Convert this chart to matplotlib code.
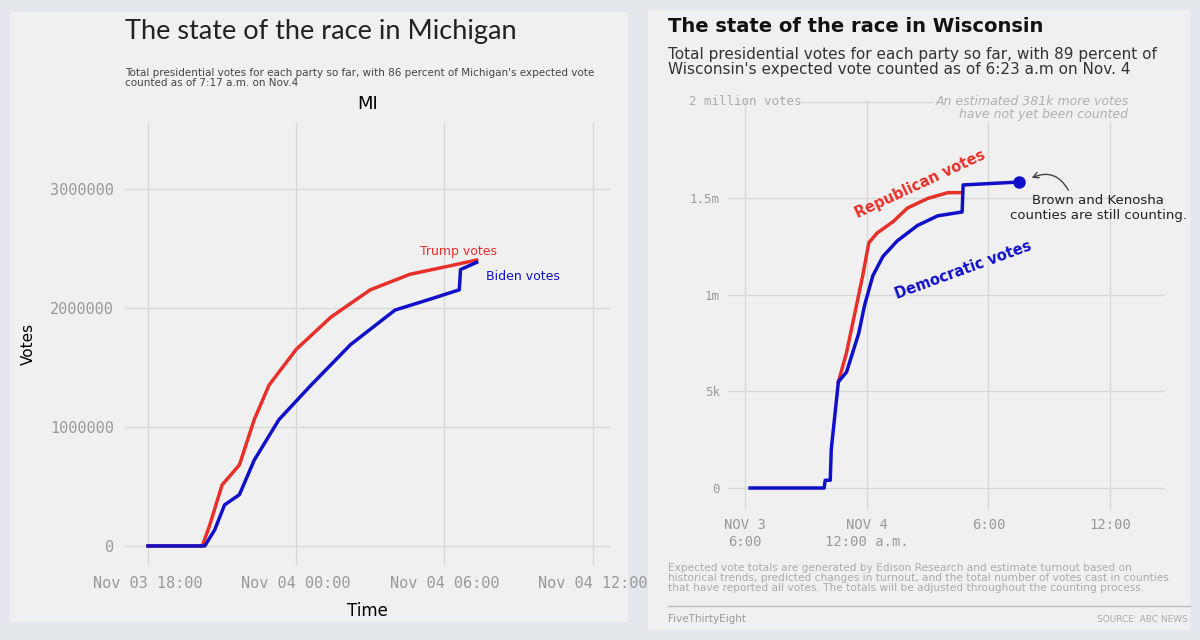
import matplotlib.pyplot as plt
from matplotlib.patches import Rectangle

# hours since Nov 3 00:00
mi_trump_t = [18.0, 20.2, 20.5, 21.0, 21.7, 22.3, 22.9, 24.0, 25.4, 27.0, 28.6, 30.2, 31.3]
mi_trump_v = [0, 0, 176e3, 512e3, 680e3, 1.06e6, 1.35e6, 1.65e6, 1.92e6, 2.15e6, 2.28e6, 2.35e6, 2.40e6]
mi_biden_t = [18.0, 20.3, 20.7, 21.1, 21.7, 22.3, 23.3, 24.6, 26.2, 28.0, 29.4, 30.6, 30.65, 31.3]
mi_biden_v = [0, 0, 135e3, 345e3, 430e3, 720e3, 1.06e6, 1.35e6, 1.69e6, 1.98e6, 2.07e6, 2.15e6, 2.32e6, 2.38e6]

wi_dem_t = [18.25, 21.9, 21.95, 22.2, 22.25, 22.45, 22.6, 23.0, 23.3, 23.6, 23.9, 24.3, 24.8, 25.5, 26.5, 27.5, 28.7, 28.75, 31.5]
wi_dem_v = [0, 0, 0.04, 0.04, 0.2, 0.4, 0.55, 0.6, 0.7, 0.8, 0.95, 1.1, 1.2, 1.28, 1.36, 1.41, 1.43, 1.57, 1.585]
wi_rep_t = [22.6, 23.0, 23.4, 23.8, 24.1, 24.5, 25.3, 26.0, 27.0, 28.0, 28.7]
wi_rep_v = [0.55, 0.7, 0.9, 1.1, 1.27, 1.32, 1.38, 1.45, 1.5, 1.53, 1.53]

mi_ticks = [18, 24, 30, 36]
mi_tick_labels = ['Nov 03 18:00', 'Nov 04 00:00', 'Nov 04 06:00', 'Nov 04 12:00']
wi_xticks = [18, 24, 30, 36]
wi_xtick_labels = ['NOV 3\n6:00', 'NOV 4\n12:00 a.m.', '6:00', '12:00']
wi_yticks = [0, 0.5, 1.0, 1.5]
wi_ytick_labels = ['0', '5k', '1m', '1.5m']

RED = '#e8302a'
BLUE = '#1010c8'
BG = '#f0f0f0'
GRID = '#d8d8d8'
MONO = 'DejaVu Sans Mono'

fig = plt.figure(figsize=(12, 6.4), dpi=100)
fig.patch.set_facecolor('#e4e7ec')
fig.patches.append(Rectangle((10 / 1200, 1 - 622 / 640), 618 / 1200, 610 / 640, zorder=-10,
                             transform=fig.transFigure, facecolor=BG, edgecolor='none'))
fig.patches.append(Rectangle((648 / 1200, 1 - 630 / 640), 542 / 1200, 620 / 640, zorder=-10,
                             transform=fig.transFigure, facecolor=BG, edgecolor='none'))

# ---- Michigan ----
ax = fig.add_axes([125 / 1200, 1 - 565 / 640, 485 / 1200, 442 / 640])
ax.set_facecolor(BG)
ax.plot(mi_trump_t, mi_trump_v, color=RED, lw=2.5)
ax.plot(mi_biden_t, mi_biden_v, color=BLUE, lw=2.5)
ax.set_xlim(17.07, 36.7)
ax.set_ylim(-160e3, 3.55e6)
ax.set_xticks(mi_ticks)
ax.set_xticklabels(mi_tick_labels, fontfamily=MONO, fontsize=11, color='#999999')
ax.set_yticks([0, 1e6, 2e6, 3e6])
ax.set_yticklabels(['0', '1000000', '2000000', '3000000'], fontfamily=MONO, fontsize=11, color='#999999')
ax.tick_params(length=0, pad=8)
ax.grid(True, color=GRID, lw=1)
for s in ax.spines.values():
    s.set_visible(False)
ax.set_xlabel('Time', fontsize=12, labelpad=8)
ax.set_ylabel('Votes', fontsize=11, labelpad=10)
ax.set_title('MI', fontsize=13, pad=10)
ax.text(29.0, 2.44e6, 'Trump votes', color=RED, fontsize=9)
ax.text(31.7, 2.23e6, 'Biden votes', color=BLUE, fontsize=9)
fig.text(125 / 1200, 1 - 32 / 640, 'The state of the race in Michigan', fontsize=19.5,
         fontfamily='Lato', color='#222222', va='center')
fig.text(125 / 1200, 1 - 78 / 640,
         "Total presidential votes for each party so far, with 86 percent of Michigan's expected vote\n"
         "counted as of 7:17 a.m. on Nov.4", fontsize=7.5, color='#444444', va='center',
         linespacing=1.0)

# ---- Wisconsin ----
bx = fig.add_axes([728 / 1200, 1 - 510 / 640, 437 / 1200, 410 / 640])
bx.set_facecolor(BG)
bx.plot(wi_rep_t, wi_rep_v, color=RED, lw=2.5)
bx.plot(wi_dem_t, wi_dem_v, color=BLUE, lw=2.5)
bx.plot(wi_dem_t[-1], wi_dem_v[-1], 'o', color=BLUE, ms=8)
bx.set_xlim(17.16, 38.7)
bx.set_ylim(-0.114, 2.01)
bx.set_xticks(wi_xticks)
bx.set_xticklabels(wi_xtick_labels, fontfamily=MONO, fontsize=10, color='#999999')
bx.set_yticks(wi_yticks)
bx.set_yticklabels(wi_ytick_labels, fontfamily=MONO, fontsize=9, color='#999999')
bx.tick_params(length=0, pad=6)
bx.grid(True, color=GRID, lw=1)
for s in bx.spines.values():
    s.set_visible(False)
bx.plot([20.7, 29.3], [2.0, 2.0], color=GRID, lw=1)
bx.text(-0.09, 2.0, '2 million votes', transform=bx.get_yaxis_transform(), fontfamily=MONO,
        fontsize=9, color='#aaaaaa', va='center')
bx.text(36.9, 1.97, 'An estimated 381k more votes\nhave not yet been counted', fontsize=9,
        style='italic', color='#b0b0b0', ha='right', va='center', linespacing=1.0,
        bbox=dict(facecolor=BG, edgecolor='none', pad=1))
bx.text(23.3, 1.4, 'Republican votes', color=RED, fontsize=10.5, fontweight='bold', rotation=25)
bx.text(25.3, 0.98, 'Democratic votes', color=BLUE, fontsize=10.5, fontweight='bold', rotation=20)
bx.text(35.4, 1.45, 'Brown and Kenosha\ncounties are still counting.', fontsize=9.5,
        color='#222222', ha='center', va='center')
bx.annotate('', xy=(32.0, 1.6), xytext=(34.0, 1.53),
            arrowprops=dict(arrowstyle='->', color='#444444', connectionstyle='arc3,rad=0.5'))
fig.text(668 / 1200, 1 - 26 / 640, 'The state of the race in Wisconsin', fontsize=14,
         fontweight='bold', color='#111111', va='center')
fig.text(668 / 1200, 1 - 62 / 640,
         "Total presidential votes for each party so far, with 89 percent of\n"
         "Wisconsin's expected vote counted as of 6:23 a.m on Nov. 4", fontsize=11,
         color='#333333', va='center', linespacing=1.05)
fig.text(668 / 1200, 1 - 578 / 640,
         "Expected vote totals are generated by Edison Research and estimate turnout based on\n"
         "historical trends, predicted changes in turnout, and the total number of votes cast in counties\n"
         "that have reported all votes. The totals will be adjusted throughout the counting process.",
         fontsize=7.6, color='#aaaaaa', va='center', linespacing=1.05)
fig.add_artist(plt.Line2D([668 / 1200, 1190 / 1200], [1 - 606 / 640] * 2, color='#bbbbbb', lw=1))
fig.text(668 / 1200, 1 - 619 / 640, 'FiveThirtyEight', fontsize=7.5, color='#999999', va='center')
fig.text(1188 / 1200, 1 - 619 / 640, 'SOURCE: ABC NEWS', fontsize=6.5, color='#aaaaaa',
         va='center', ha='right')

fig.savefig('out.png', dpi=100, facecolor=fig.get_facecolor())
